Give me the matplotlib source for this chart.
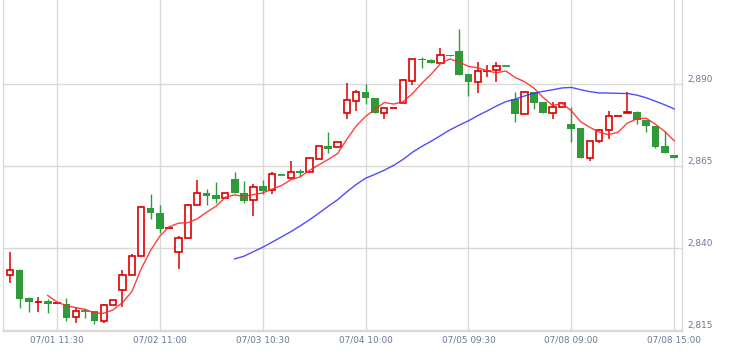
import numpy as np
import pandas as pd
import matplotlib
matplotlib.use('Agg')
import matplotlib.pyplot as plt

''' candle data read off the chart (72 bars) '''
opens = [2831.7, 2833.2, 2824.7, 2823.5, 2823.8, 2823.1, 2822.8, 2819.0, 2820.8, 2820.8,
         2817.8, 2822.5, 2827.1, 2831.7, 2837.5, 2852.2, 2850.7, 2845.9, 2838.7, 2843.0,
         2853.0, 2856.9, 2856.1, 2855.2, 2860.9, 2856.7, 2854.5, 2858.9, 2857.7, 2862.3,
         2861.3, 2863.5, 2863.1, 2867.0, 2871.1, 2870.9, 2881.1, 2884.7, 2887.5, 2885.6,
         2881.1, 2882.6, 2884.1, 2891.0, 2897.6, 2897.3, 2896.3, 2898.8, 2900.1, 2893.0,
         2890.7, 2894.1, 2894.3, 2895.5, 2885.3, 2880.8, 2887.7, 2884.6, 2881.3, 2882.9,
         2877.8, 2876.6, 2867.5, 2872.5, 2875.9, 2880.2, 2881.1, 2881.5, 2878.9, 2877.2,
         2871.1, 2868.4]
highs = [2838.7, 2833.6, 2825.1, 2825.2, 2824.5, 2823.1, 2824.7, 2822.1, 2821.6, 2820.8,
         2822.8, 2824.1, 2833.2, 2838.1, 2852.8, 2856.4, 2853.0, 2846.0, 2843.7, 2853.4,
         2860.7, 2857.9, 2860.1, 2856.7, 2863.2, 2860.4, 2859.4, 2860.7, 2863.3, 2862.3,
         2866.5, 2864.0, 2867.5, 2871.0, 2875.3, 2872.2, 2890.4, 2888.2, 2889.9, 2885.6,
         2882.6, 2882.6, 2891.5, 2897.5, 2898.3, 2897.6, 2900.9, 2898.8, 2906.7, 2893.0,
         2896.8, 2895.8, 2896.8, 2895.5, 2887.7, 2887.9, 2887.7, 2884.6, 2884.6, 2884.1,
         2883.1, 2876.6, 2872.7, 2876.3, 2881.8, 2880.2, 2887.5, 2881.9, 2878.9, 2877.2,
         2875.7, 2868.4]
lows = [2829.2, 2821.6, 2820.4, 2820.4, 2820.1, 2823.1, 2817.7, 2817.0, 2818.8, 2816.7,
        2817.2, 2822.5, 2821.9, 2831.7, 2837.5, 2848.8, 2844.5, 2845.9, 2833.5, 2843.0,
        2853.0, 2853.1, 2853.6, 2855.2, 2856.7, 2853.6, 2849.8, 2856.5, 2856.4, 2862.2,
        2861.3, 2862.0, 2863.1, 2867.0, 2868.9, 2870.9, 2879.2, 2881.8, 2883.8, 2881.1,
        2879.3, 2882.6, 2884.1, 2889.7, 2894.8, 2896.3, 2896.3, 2898.4, 2892.7, 2886.3,
        2887.3, 2892.2, 2890.5, 2895.4, 2878.5, 2880.8, 2882.3, 2881.3, 2879.2, 2882.9,
        2872.2, 2867.5, 2866.6, 2872.1, 2873.1, 2880.2, 2881.1, 2877.8, 2875.5, 2870.4,
        2869.1, 2867.5]
closes = [2833.2, 2824.4, 2823.6, 2823.6, 2823.0, 2823.1, 2818.8, 2820.7, 2820.7, 2817.8,
          2822.5, 2824.1, 2831.7, 2837.5, 2852.4, 2850.6, 2845.9, 2846.0, 2843.0, 2853.0,
          2856.7, 2855.9, 2855.0, 2856.7, 2856.7, 2854.4, 2858.7, 2857.4, 2862.5, 2862.2,
          2863.3, 2863.0, 2867.3, 2871.0, 2870.3, 2872.2, 2885.0, 2887.5, 2885.6, 2881.1,
          2882.6, 2882.6, 2891.1, 2897.5, 2897.2, 2896.3, 2898.8, 2898.4, 2892.7, 2890.7,
          2894.1, 2894.1, 2895.5, 2895.4, 2880.8, 2887.7, 2884.3, 2881.3, 2883.1, 2884.1,
          2876.4, 2867.5, 2872.7, 2875.9, 2880.2, 2880.2, 2881.5, 2878.9, 2877.1, 2870.9,
          2869.1, 2867.5]

tick_labels = ['07/01 11:30', '07/02 11:00', '07/03 10:30', '07/04 10:00',
               '07/05 09:30', '07/08 09:00', '07/08 15:00']
tick_idx = list(range(5, 72, 11))
y_ticks = [2815, 2840, 2865, 2890]

o = np.array(opens)
h = np.array(highs)
l = np.array(lows)
c = np.array(closes)
x = np.arange(len(o))

ma5 = pd.Series(c).rolling(5).mean()
ma25 = pd.Series(c).rolling(25).mean()

RED = '#dd0000'
GREEN = '#2f9a3a'
GRID = '#d9d9d9'
TXT = '#6a7896'

fig = plt.figure(figsize=(7.29, 3.53), dpi=100)
ax = fig.add_axes([0.0045, 0.0623, 0.931, 0.9377])

up = c >= o
w = 0.82
body = np.abs(c - o)
doji = body < 0.25

# wicks
ax.vlines(x[up], l[up], h[up], color=RED, lw=1.1, zorder=3)
ax.vlines(x[~up], l[~up], h[~up], color=GREEN, lw=1.0, zorder=3)

# bodies
m = up & ~doji
ax.bar(x[m], body[m], bottom=np.minimum(o, c)[m], width=w - 0.15,
       facecolor='white', edgecolor=RED, lw=1.2, zorder=4)
m = ~up & ~doji
ax.bar(x[m], body[m], bottom=np.minimum(o, c)[m], width=w,
       facecolor=GREEN, edgecolor=GREEN, lw=0, zorder=4)
m = up & doji
ax.hlines(c[m], x[m] - w / 2, x[m] + w / 2, color=RED, lw=1.3, zorder=4)
m = ~up & doji
ax.hlines(c[m], x[m] - w / 2, x[m] + w / 2, color=GREEN, lw=1.3, zorder=4)

# moving averages
ax.plot(x, ma5, color='#ff2a2a', lw=1.0, alpha=0.9, zorder=5)
ax.plot(x, ma25, color='#3a3aff', lw=1.0, alpha=0.9, zorder=5)

ax.set_xlim(-0.75, 71.84)
ax.set_ylim(2814.7, 2915.6)

ax.set_xticks(tick_idx)
ax.set_xticklabels(tick_labels)
ax.set_yticks(y_ticks)
ax.set_yticklabels(['{:,}'.format(v) for v in y_ticks])
ax.yaxis.tick_right()
ax.tick_params(axis='both', length=0, labelsize=6.4, colors=TXT)
ax.tick_params(axis='x', pad=3)
ax.tick_params(axis='y', pad=4)
for t in ax.get_yticklabels():
    t.set_va('bottom')

ax.grid(True, color=GRID, lw=1.0)
ax.set_axisbelow(True)
for s in ['left', 'bottom', 'right']:
    ax.spines[s].set_color(GRID)
    ax.spines[s].set_linewidth(1.0)
ax.spines['top'].set_visible(False)

plt.savefig('out.png', dpi=100)
